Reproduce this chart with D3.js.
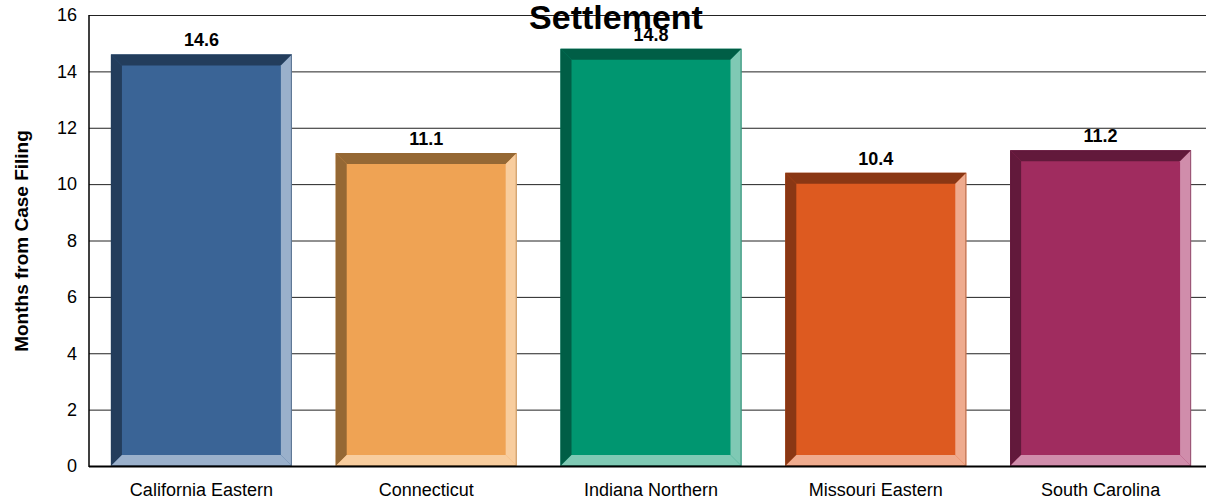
<!DOCTYPE html>
<html><head><meta charset="utf-8">
<script src="https://cdn.jsdelivr.net/npm/d3@7"></script>
<style>body{margin:0;background:#fff;}svg{display:block;font-family:"Liberation Sans",Arial,sans-serif;}</style>
</head><body><svg id="c" width="1206" height="500"></svg>
<script>
const categories = ["California Eastern","Connecticut","Indiana Northern","Missouri Eastern","South Carolina"];
const values = [14.6, 11.1, 14.8, 10.4, 11.2];
const yTicks = [0,2,4,6,8,10,12,14,16];
const mainColors = ["#3A6496","#EFA354","#009670","#DD5A20","#A02C5F"];
const darkColors = ["#233D5C","#956834","#005E46","#8A3714","#62193B"];
const lightColors = ["#9AB0CB","#F8CD9E","#7FC9B4","#EFAB8E","#D08DAB"];

const svg = d3.select("#c");
const W = 1206, H = 500;
const plotLeft = 89, plotRight = 1213, plotTop = 15, plotBottom = 466;
const x = d3.scaleBand().domain(categories).range([plotLeft, plotRight]).paddingInner(0.195).paddingOuter(0.0975);
const y = d3.scaleLinear().domain([0,16]).range([plotBottom, plotTop]);

// gridlines
svg.append("g").selectAll("line").data(yTicks.filter(d=>d>0)).join("line")
  .attr("x1", plotLeft).attr("x2", W).attr("y1", d=>y(d)+0.5).attr("y2", d=>y(d)+0.5)
  .attr("stroke", "#222").attr("stroke-width", 1);

// y axis labels
const ya = svg.append("g").attr("transform", `translate(${plotLeft},0)`)
  .call(d3.axisLeft(y).tickValues(yTicks).tickSize(0).tickPadding(12).tickFormat(d3.format("d")));
ya.select(".domain").remove();
ya.selectAll("text").attr("font-size", 18).attr("fill", "#000").attr("font-family","Liberation Sans, Arial, sans-serif");

// bars with bevel
const bv = 11;
const bars = svg.append("g").selectAll("g").data(categories).join("g");
bars.each(function(c, i){
  const g = d3.select(this);
  const x0 = x(c), x1 = x(c) + x.bandwidth();
  const y0 = y(values[i]), y1 = y(0);
  const poly = pts => pts.map(p=>p.join(",")).join(" ");
  g.append("rect").attr("x", x0).attr("y", y0).attr("width", x1-x0).attr("height", y1-y0).attr("fill", mainColors[i]);
  g.append("polygon").attr("fill", darkColors[i]).attr("points", poly([[x0,y0],[x1,y0],[x1-bv,y0+bv],[x0+bv,y0+bv]]));
  g.append("polygon").attr("fill", darkColors[i]).attr("points", poly([[x0,y0],[x0+bv,y0+bv],[x0+bv,y1-bv],[x0,y1]]));
  g.append("polygon").attr("fill", lightColors[i]).attr("points", poly([[x1,y0],[x1,y1],[x1-bv,y1-bv],[x1-bv,y0+bv]]));
  g.append("polygon").attr("fill", lightColors[i]).attr("points", poly([[x0,y1],[x1,y1],[x1-bv,y1-bv],[x0+bv,y1-bv]]));
  g.append("rect").attr("x", x0+0.5).attr("y", y0+0.5).attr("width", x1-x0-1).attr("height", y1-y0-1)
    .attr("fill","none").attr("stroke", darkColors[i]).attr("stroke-opacity",0.5).attr("stroke-width",1);
  g.append("text").attr("x", (x0+x1)/2).attr("y", y0 - 8).attr("text-anchor","middle")
    .attr("font-size", 18).attr("font-weight","bold").text(values[i].toFixed(1));
});

// axes lines
svg.append("line").attr("x1", plotLeft).attr("x2", plotLeft).attr("y1", plotTop).attr("y2", y(0)+1).attr("stroke","#000").attr("stroke-width",1.5);
svg.append("line").attr("x1", plotLeft).attr("x2", W).attr("y1", y(0)+0.5).attr("y2", y(0)+0.5).attr("stroke","#000").attr("stroke-width",2);

// x labels
const xa = svg.append("g").attr("transform", `translate(0,${y(0)})`)
  .call(d3.axisBottom(x).tickSize(0).tickPadding(17));
xa.select(".domain").remove();
xa.selectAll("text").attr("font-size", 18).attr("fill","#000").attr("font-family","Liberation Sans, Arial, sans-serif");

// y title
svg.append("text").attr("transform", `translate(28,241) rotate(-90)`)
  .attr("text-anchor","middle").attr("font-size",19).attr("font-weight","bold").text("Months from Case Filing");

// title
svg.append("text").attr("x", 616).attr("y", 29).attr("text-anchor","middle")
  .attr("font-size", 34).attr("font-weight","bold").text("Settlement");
</script></body></html>
